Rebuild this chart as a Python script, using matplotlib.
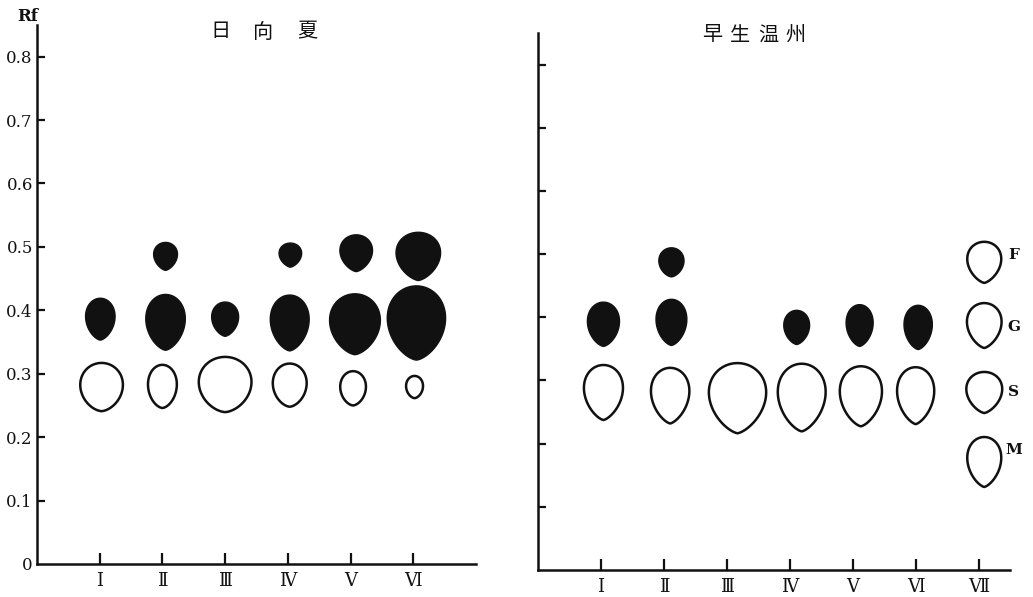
import numpy as np
import matplotlib
matplotlib.use("Agg")
import matplotlib.pyplot as plt
from matplotlib.patches import Polygon

plt.rcParams['font.family'] = ['DejaVu Serif']

# ---------------- data ----------------
left_title = ["日", "向", "夏"]
right_title = ["早", "生", "温", "州"]
lanes_left = ["Ⅰ", "Ⅱ", "Ⅲ", "Ⅳ", "Ⅴ", "Ⅵ"]
lanes_right = ["Ⅰ", "Ⅱ", "Ⅲ", "Ⅳ", "Ⅴ", "Ⅵ", "Ⅶ"]
rf_ticks = [0, 0.1, 0.2, 0.3, 0.4, 0.5, 0.6, 0.7, 0.8]
rf_tick_labels = ["0", "0.1", "0.2", "0.3", "0.4", "0.5", "0.6", "0.7", "0.8"]

# 日向夏 : spot lane, Rf, width (lane units), height (Rf units)
hy_F_lane = [2.05, 4.04, 5.09, 6.08]
hy_F_rf = [0.485, 0.487, 0.490, 0.485]
hy_F_w = [0.38, 0.36, 0.52, 0.71]
hy_F_h = [0.044, 0.038, 0.058, 0.076]

hy_G_lane = [1.01, 2.05, 3.00, 4.03, 5.07, 6.05]
hy_G_rf = [0.386, 0.381, 0.386, 0.380, 0.378, 0.380]
hy_G_w = [0.47, 0.63, 0.43, 0.62, 0.81, 0.93]
hy_G_h = [0.066, 0.088, 0.054, 0.088, 0.096, 0.117]

hy_S_lane = [1.03, 2.00, 3.00, 4.03, 5.04, 6.02]
hy_S_rf = [0.279, 0.280, 0.283, 0.282, 0.277, 0.279]
hy_S_w = [0.68, 0.46, 0.84, 0.54, 0.41, 0.27]
hy_S_h = [0.076, 0.068, 0.087, 0.068, 0.054, 0.035]

# 早生温州
wu_F_lane = [2.12]
wu_F_rf = [0.487]
wu_F_w = [0.40]
wu_F_h = [0.046]

wu_G_lane = [1.04, 2.12, 4.11, 5.11, 6.04]
wu_G_rf = [0.389, 0.392, 0.384, 0.387, 0.384]
wu_G_w = [0.51, 0.49, 0.41, 0.43, 0.45]
wu_G_h = [0.070, 0.073, 0.054, 0.066, 0.070]

wu_S_lane = [1.04, 2.10, 3.17, 4.19, 5.13, 6.00]
wu_S_rf = [0.281, 0.276, 0.272, 0.273, 0.275, 0.276]
wu_S_w = [0.62, 0.61, 0.91, 0.76, 0.67, 0.59]
wu_S_h = [0.087, 0.088, 0.111, 0.107, 0.095, 0.090]

# reference standards (legend)
std_names = ["F", "G", "S", "M"]
std_rf = [0.487, 0.387, 0.281, 0.171]
std_label_rf = [0.498, 0.384, 0.281, 0.190]
std_w = [0.54, 0.55, 0.57, 0.54]
std_h = [0.065, 0.071, 0.065, 0.079]
std_lane = 7.09


# ---------------- drawing helpers ----------------
def drop_shape(cx, cy, w, h, m=0.3):
    t = np.linspace(0, 2 * np.pi, 240)
    bx = np.sin(t) * np.abs(np.sin(t / 2)) ** m
    by = -np.cos(t)
    bx = bx / np.abs(bx).max()
    return np.column_stack([cx + bx * w / 2, cy + by * h / 2])


def draw_spots(ax, lanes, rfs, ws, hs, filled, m=0.3):
    for x, y, w, h in zip(lanes, rfs, ws, hs):
        pts = drop_shape(x, y, w, h, m)
        if filled:
            p = Polygon(pts, closed=True, facecolor="#111111",
                        edgecolor="#111111", linewidth=1.0)
        else:
            p = Polygon(pts, closed=True, facecolor="none",
                        edgecolor="#111111", linewidth=1.8)
        p.set_clip_on(False)
        ax.add_patch(p)


def style_axes(ax, nlanes, labels, xmax, show_ylabels):
    ax.set_xlim(0, xmax)
    ax.set_ylim(0, 0.85)
    for s in ["top", "right"]:
        ax.spines[s].set_visible(False)
    for s in ["left", "bottom"]:
        ax.spines[s].set_linewidth(1.8)
        ax.spines[s].set_color("#111111")
    ax.set_xticks(np.arange(1, nlanes + 1))
    ax.set_xticklabels(labels, fontsize=13, family=["DejaVu Serif"])
    ax.tick_params(axis="x", direction="in", length=8, width=1.6,
                   pad=6, colors="#111111")
    ax.set_yticks(rf_ticks[1:] if not show_ylabels else rf_ticks)
    if show_ylabels:
        ax.set_yticklabels(rf_tick_labels, fontsize=12)
    else:
        ax.set_yticklabels([])
    ax.tick_params(axis="y", direction="in", length=6, width=1.6,
                   pad=3, colors="#111111")
    ax.patch.set_alpha(0)


fig = plt.figure(figsize=(10.33, 5.97), dpi=100)
axL = fig.add_axes([0.0358, 0.0553, 0.425, 0.903])
axR = fig.add_axes([0.5208, 0.0452, 0.457, 0.8995])

style_axes(axL, 6, lanes_left, 7.0, True)
style_axes(axR, 7, lanes_right, 7.5, False)
axL.yaxis.get_major_ticks()[0].tick1line.set_visible(False)

draw_spots(axL, hy_F_lane, hy_F_rf, hy_F_w, hy_F_h, True, m=0.35)
draw_spots(axL, hy_G_lane, hy_G_rf, hy_G_w, hy_G_h, True, m=0.3)
draw_spots(axL, hy_S_lane, hy_S_rf, hy_S_w, hy_S_h, False, m=0.2)

draw_spots(axR, wu_F_lane, wu_F_rf, wu_F_w, wu_F_h, True, m=0.25)
draw_spots(axR, wu_G_lane, wu_G_rf, wu_G_w, wu_G_h, True, m=0.3)
draw_spots(axR, wu_S_lane, wu_S_rf, wu_S_w, wu_S_h, False, m=0.4)

draw_spots(axR, [std_lane] * 4, std_rf, std_w, std_h, False, m=0.4)
for name, y in zip(std_names, std_label_rf):
    axR.text(std_lane + 0.47, y, name, fontsize=11, fontweight="bold",
             family=["DejaVu Serif"], va="center", ha="center",
             color="#111111", clip_on=False)

axL.text(-0.15, 0.863, "Rf", fontsize=12, fontweight="bold",
         family=["DejaVu Serif"], ha="center", va="center",
         transform=axL.transData, clip_on=False, color="#111111")

for ch, px in zip(left_title, [220, 263, 307]):
    fig.text(px / 1033, 1 - 32 / 597, ch, fontsize=14.5,
             family=["Noto Sans CJK JP"], ha="center", va="center",
             color="#111111")
for ch, px in zip(right_title, [712, 740, 768, 795]):
    fig.text(px / 1033, 1 - 35 / 597, ch, fontsize=14.5,
             family=["Noto Sans CJK JP"], ha="center", va="center",
             color="#111111")

fig.savefig("out.png", dpi=100, facecolor="white")
